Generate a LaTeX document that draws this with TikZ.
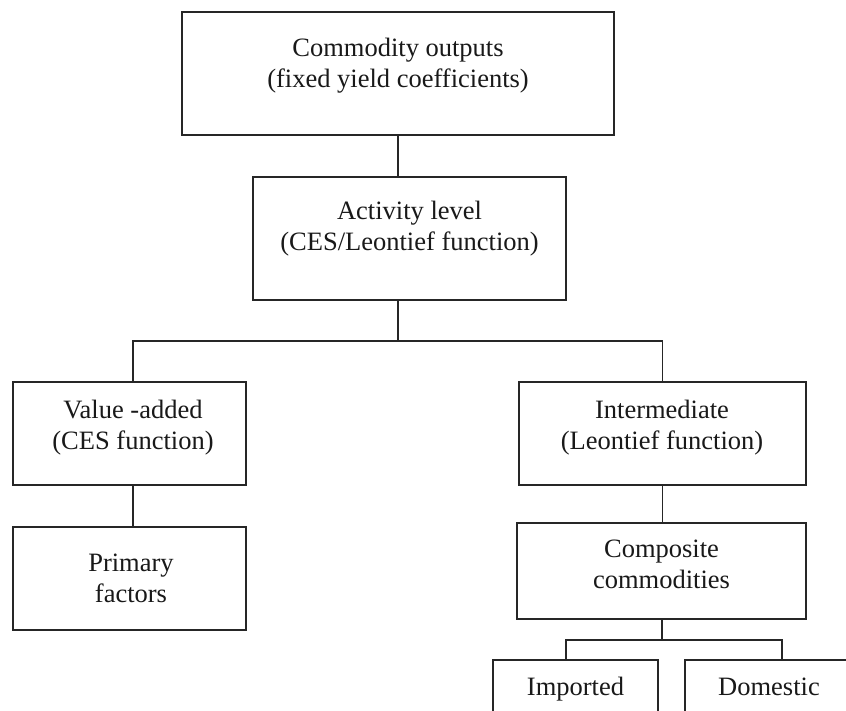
\documentclass[tikz,border=0pt]{standalone}
\usepackage{fontspec}
\setmainfont{Liberation Serif}
\begin{document}
\begin{tikzpicture}[x=1pt,y=-1pt,
  box/.style={draw=black!85,line width=1.8pt,rectangle,inner sep=0pt,fill=white},
  lbl/.style={text=black!90,font=\fontsize{26.5}{31}\selectfont,anchor=base,inner sep=0pt},
  conn/.style={draw=black!85,line width=1.8pt}]
\useasboundingbox (0,0) rectangle (846,711);
\clip (0,0) rectangle (846,711);
% boxes
\node[box,minimum width=432pt,minimum height=123pt] (top) at (398,73.5) {};
\node[box,minimum width=313pt,minimum height=123pt] (act) at (409.5,238.5) {};
\node[box,minimum width=233pt,minimum height=103pt] (va) at (129.5,433.5) {};
\node[box,minimum width=287pt,minimum height=103pt] (im) at (662.5,433.5) {};
\node[box,minimum width=233pt,minimum height=103pt] (pf) at (129.5,578.5) {};
\node[box,minimum width=289pt,minimum height=96pt] (cc) at (661.5,571) {};
\node[box,minimum width=165pt,minimum height=120pt] (imp) at (575.5,720) {};
\node[box,minimum width=168pt,minimum height=120pt] (dom) at (769,720) {};
% junctions
\coordinate (j1) at (398,341);
\coordinate (j2) at (662,640);
% connectors
\draw[conn] (top.south) -- (top.south |- act.north);
\draw[conn] (j1 |- act.south) -- (j1);
\draw[conn] ([xshift=3.5pt]va.north) |- (j1);
\draw[conn] (j1) -| (im.north);
\draw[conn] ([xshift=3.5pt]va.south) -- ([xshift=3.5pt]pf.north);
\draw[conn] (im.south) -- (im.south |- cc.north);
\draw[conn] (j2 |- cc.south) -- (j2);
\draw[conn] ([xshift=-9.5pt]imp.north) |- (j2);
\draw[conn] (j2) -| ([xshift=13pt]dom.north);
% labels
\node[lbl] (topA) at (398,57) {Commodity outputs};
\node[lbl] (topB) at (398,88) {(fixed yield coefficients)};
\node[lbl] (actA) at (409.5,220) {Activity level};
\node[lbl] (actB) at (409.5,251) {(CES/Leontief function)};
\node[lbl] (vaA) at (133,418) {Value -added};
\node[lbl] (vaB) at (133,449) {(CES function)};
\node[lbl] (imA) at (662,418) {Intermediate};
\node[lbl] (imB) at (662,449) {(Leontief function)};
\node[lbl] (pfA) at (131,571) {Primary};
\node[lbl] (pfB) at (131,602) {factors};
\node[lbl] (ccA) at (661.5,557) {Composite};
\node[lbl] (ccB) at (661.5,588) {commodities};
\node[lbl] (impA) at (575.5,695) {Imported};
\node[lbl] (domA) at (769,695) {Domestic};
\end{tikzpicture}
\end{document}
